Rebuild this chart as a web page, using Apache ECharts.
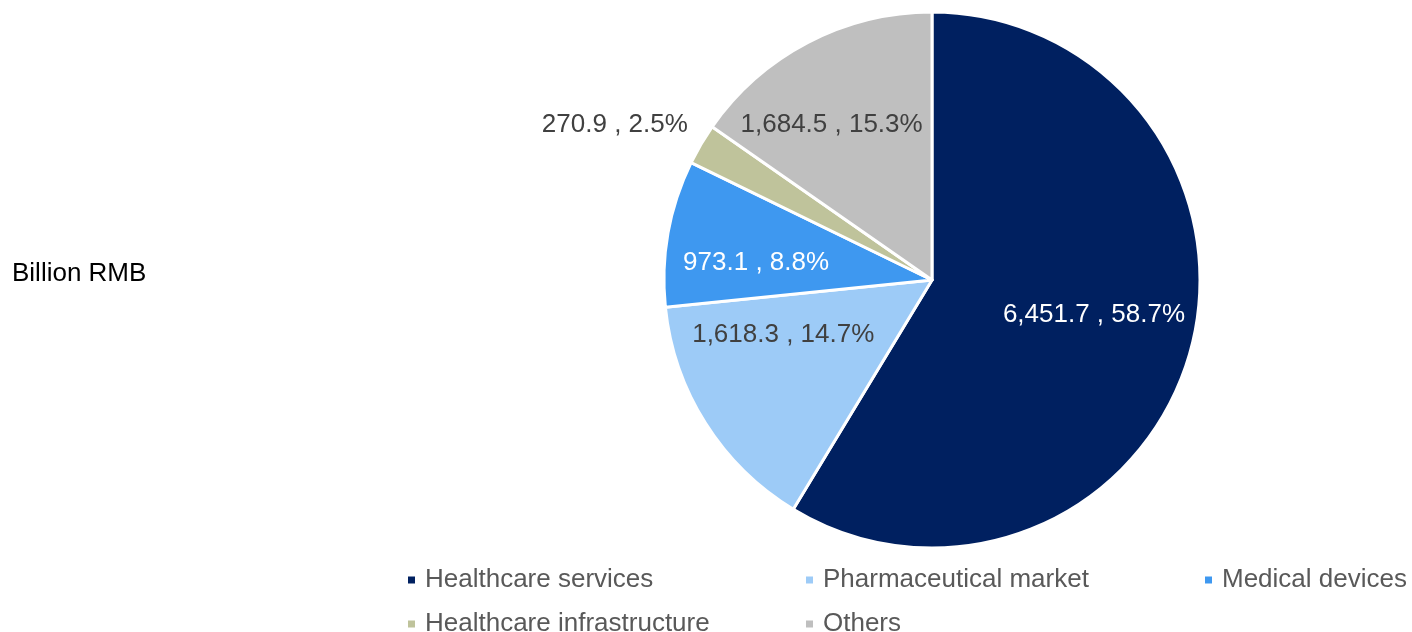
<!DOCTYPE html>
<html>
<head>
<meta charset="utf-8">
<script src="https://cdn.jsdelivr.net/npm/echarts@6/dist/echarts.min.js"></script>
<style>
  html, body { margin: 0; padding: 0; background: #fff; }
  #chart { width: 1412px; height: 632px; }
</style>
</head>
<body>
<div id="chart"></div>
<script>
// data
const categories = ['Healthcare services', 'Pharmaceutical market', 'Medical devices', 'Healthcare infrastructure', 'Others']
const values = [6451.7, 1618.3, 973.1, 270.9, 1684.5]
const shares = [58.7, 14.7, 8.8, 2.5, 15.3]

const colors = ['#002060', '#9dcbf7', '#3e98f0', '#bfc39b', '#bfbfbf']
const labelColors = ['#fff', '#404040', '#fff', '#404040', '#404040']
const labelOffsets = [[30, -2], [-33, -18], [-41, 7], [-199, -86], [-37, -34]]
// legend slots: 3 columns, 2 rows
const legendCols = [406, 804, 1203, 406, 804]
const legendRows = [567, 567, 567, 611, 611]

const fmt = v => v.toLocaleString('en-US', { minimumFractionDigits: 1, maximumFractionDigits: 1 })

const chart = echarts.init(document.getElementById('chart'))
chart.setOption({
  animation: false,
  title: {
    text: 'Billion RMB',
    left: 7,
    top: 256,
    textStyle: {
      fontFamily: 'Liberation Sans, Arial, sans-serif',
      fontSize: 26,
      fontWeight: 'normal',
      color: '#000',
    },
  },
  legend: categories.map((name, i) => ({
    left: legendCols[i],
    top: legendRows[i],
    padding: 0,
    itemWidth: 9,
    itemHeight: 9,
    icon: 'rect',
    selectedMode: false,
    data: [name],
    textStyle: {
      fontFamily: 'Liberation Sans, Arial, sans-serif',
      fontSize: 26,
      color: '#595959',
      padding: [0, 0, 0, 4],
    },
  })),
  series: [
    {
      type: 'pie',
      center: [932, 280],
      radius: [0, 268],
      startAngle: 90,
      clockwise: true,
      avoidLabelOverlap: false,
      itemStyle: { borderColor: '#fff', borderWidth: 3 },
      label: {
        position: 'inside',
        fontFamily: 'Liberation Sans, Arial, sans-serif',
        fontSize: 26,
      },
      labelLine: { show: false },
      emphasis: { disabled: true },
      data: categories.map((name, i) => ({
        name: name,
        value: values[i],
        itemStyle: { color: colors[i] },
        label: {
          color: labelColors[i],
          offset: labelOffsets[i],
          formatter: () => fmt(values[i]) + ' , ' + shares[i].toFixed(1) + '%',
        },
      })),
    },
  ],
})
</script>
</body>
</html>
